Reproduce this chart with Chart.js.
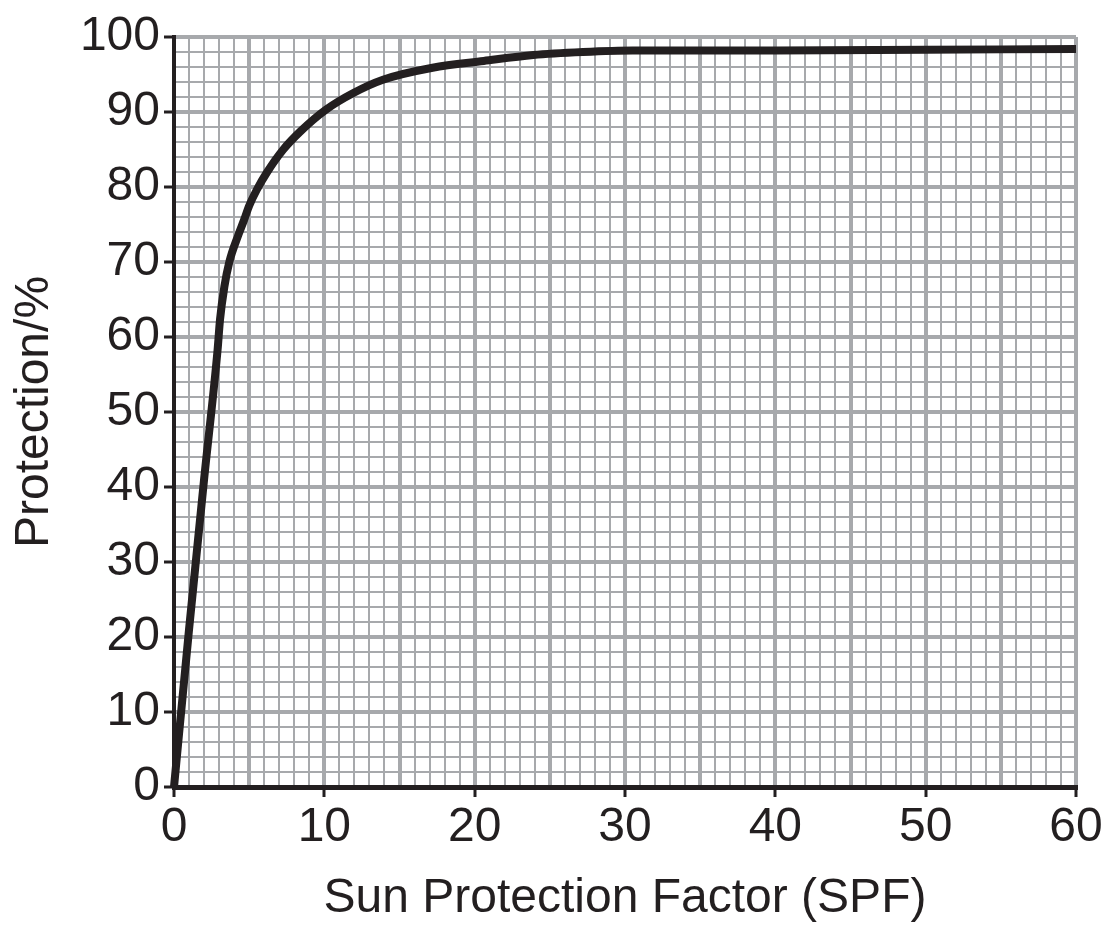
<!DOCTYPE html>
<html>
<head>
<meta charset="utf-8">
<script src="https://cdn.jsdelivr.net/npm/chart.js@4/dist/chart.umd.min.js"></script>
<style>
  html, body { margin: 0; padding: 0; background: #fff; }
  #wrap { width: 1115px; height: 925px; }
</style>
</head>
<body>
<div id="wrap"><canvas id="spfChart" width="1115" height="925"></canvas></div>
<script>
// values
var spfValues = [0, 1, 2, 2.9, 3.06, 3.35, 3.68, 4.28, 4.66, 5, 5.5, 6.2, 7.27, 8.4, 10.1, 11.9, 13.9, 17.2, 20.6, 23.9, 27.2, 30.5, 40, 50, 60];
var protectionValues = [0, 21, 41, 58.3, 62.3, 66.7, 70, 73.6, 75.6, 77.5, 79.6, 82, 85, 87.4, 90.3, 92.5, 94.3, 95.9, 96.8, 97.6, 98.0, 98.2, 98.2, 98.3, 98.4];

var xTickLabels = [0, 10, 20, 30, 40, 50, 60];
var yTickLabels = [0, 10, 20, 30, 40, 50, 60, 70, 80, 90, 100];

var GRID = '#a7a9ac';
var INK = '#231f20';
var FONT = "'Liberation Sans', Arial, Helvetica, sans-serif";

var points = [];
for (var i = 0; i < spfValues.length; i++) {
    points.push({ x: spfValues[i], y: protectionValues[i] });
}

function gridWidth(major) {
    return function(ctx) {
        if (!ctx.tick) return 2;
        return (ctx.tick.value % major === 0) ? 4 : 2;
    };
}

var ctx = document.getElementById('spfChart').getContext('2d');
var chart = new Chart(ctx, {
    type: 'line',
    data: {
        datasets: [{
            data: points,
            borderColor: INK,
            borderWidth: 8,
            pointRadius: 0,
            fill: false,
            cubicInterpolationMode: 'monotone',
            clip: 8
        }]
    },
    options: {
        responsive: false,
        animation: false,
        devicePixelRatio: 1,
        layout: { padding: { top: 37, right: 39, left: 0, bottom: 0 } },
        plugins: { legend: { display: false }, tooltip: { enabled: false } },
        scales: {
            x: {
                type: 'linear',
                min: 0,
                max: 60,
                afterFit: function(scale) { scale.height = 138; },
                ticks: {
                    stepSize: 1,
                    autoSkip: false,
                    maxRotation: 0,
                    maxTicksLimit: 200,
                    padding: 2,
                    color: INK,
                    font: { family: FONT, size: 48 },
                    callback: function(v) { return xTickLabels.indexOf(v) >= 0 ? String(v) : ''; }
                },
                grid: {
                    color: GRID,
                    lineWidth: gridWidth(5),
                    tickLength: 10,
                    tickWidth: 3,
                    tickColor: function(c) {
                        return (c.tick && xTickLabels.indexOf(c.tick.value) >= 0) ? INK : 'rgba(0,0,0,0)';
                    }
                },
                border: { color: INK, width: 5, z: 1 },
                title: {
                    display: true,
                    text: 'Sun Protection Factor (SPF)',
                    color: INK,
                    font: { family: FONT, size: 48, lineHeight: 1 },
                    padding: { top: 0, bottom: 2 }
                }
            },
            y: {
                type: 'linear',
                min: 0,
                max: 100,
                afterFit: function(scale) { scale.width = 174; },
                ticks: {
                    stepSize: 2,
                    autoSkip: false,
                    maxTicksLimit: 200,
                    padding: 4,
                    color: INK,
                    font: { family: FONT, size: 48 },
                    callback: function(v) { return yTickLabels.indexOf(v) >= 0 ? String(v) : ''; }
                },
                grid: {
                    color: GRID,
                    lineWidth: gridWidth(10),
                    tickLength: 10,
                    tickWidth: 3,
                    tickColor: function(c) {
                        return (c.tick && yTickLabels.indexOf(c.tick.value) >= 0) ? INK : 'rgba(0,0,0,0)';
                    }
                },
                border: { color: INK, width: 4, z: 1 },
                title: {
                    display: true,
                    text: 'Protection/%',
                    color: INK,
                    font: { family: FONT, size: 48, lineHeight: 1 },
                    padding: { top: 11, bottom: 0 }
                }
            }
        }
    }
});
</script>
</body>
</html>
